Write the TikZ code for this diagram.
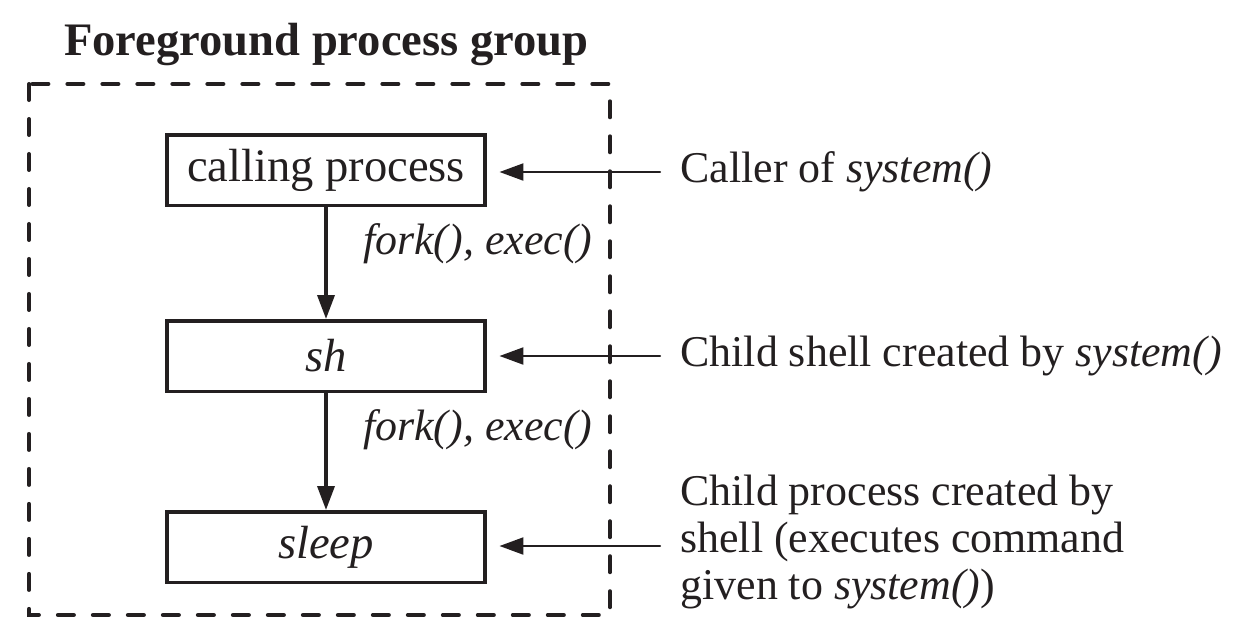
\documentclass[tikz,border=0pt]{standalone}
\usepackage{fontspec}
\setmainfont{Liberation Serif}
\usetikzlibrary{arrows.meta, calc}

\definecolor{ink}{HTML}{231F20}

\begin{document}
\begin{tikzpicture}[%
        > = {Triangle[length = 0.48cm, width = 0.34cm]},
        x = 0.02cm,
        y = -0.02cm,
        line cap = round,
        color = ink,
        font = \fontsize{25}{26.5}\selectfont,
        procbox/.style = {%
            draw,
            line width = 0.07cm,
            minimum width = 6.37cm,
            minimum height = 1.41cm,
            inner sep = 0pt,
            font = \fontsize{26.5}{28}\selectfont
        },
        note/.style = {anchor = west, inner sep = 0pt, align = left}
    ]

        % Page size.
        \useasboundingbox (0, 0) rectangle (1260, 640);

        % Coordinates
        \coordinate (c_call) at (326, 170);
        \coordinate (c_sh) at (326, 356);
        \coordinate (c_sleep) at (326, 547);
        \coordinate (t_call) at (660, 172);
        \coordinate (t_sh) at (660, 356);
        \coordinate (t_sleep) at (660, 546);

        % Dashed frame of the process group.
        \draw[%
            line width = 0.08cm,
            dash pattern = on 0.32cm off 0.38cm
        ] (29, 84) rectangle (610, 615);

        \node[anchor = base west, font = \fontsize{26.5}{28}\selectfont\bfseries]
            (group) at (58, 55) {Foreground process group};

        % The three processes.
        \node[procbox] (caller) at (c_call) {calling process};
        \node[procbox] (shell) at (c_sh) {\textit{sh}};
        \node[procbox] (sleeper) at (c_sleep) {\textit{sleep}};

        % Process creation.
        \begin{scope}[line width = 0.07cm, ->]
            \draw (caller) -- (shell);
            \draw (shell) -- (sleeper);
        \end{scope}
        \node[anchor = base west] (fork1) at (357, 254) {\textit{fork(), exec()}};
        \node[anchor = base west] (fork2) at (357, 440) {\textit{fork(), exec()}};

        % Notes on the right.
        \node[note] (n_call) at ($(t_call) + (20, 0)$) {Caller of \textit{system()}};
        \node[note] (n_sh) at ($(t_sh) + (20, 0)$) {Child shell created by \textit{system()}};
        \node[note] (n_sleep) at ($(t_sleep) + (20, -4)$)
            {Child process created by\\shell (executes command\\given to \textit{system()})};

        \begin{scope}[line width = 0.045cm, ->, shorten > = 0.25cm]
            \draw (t_call) -- (t_call -| caller.east);
            \draw (t_sh) -- (t_sh -| shell.east);
            \draw (t_sleep) -- (t_sleep -| sleeper.east);
        \end{scope}
    \end{tikzpicture}
\end{document}
